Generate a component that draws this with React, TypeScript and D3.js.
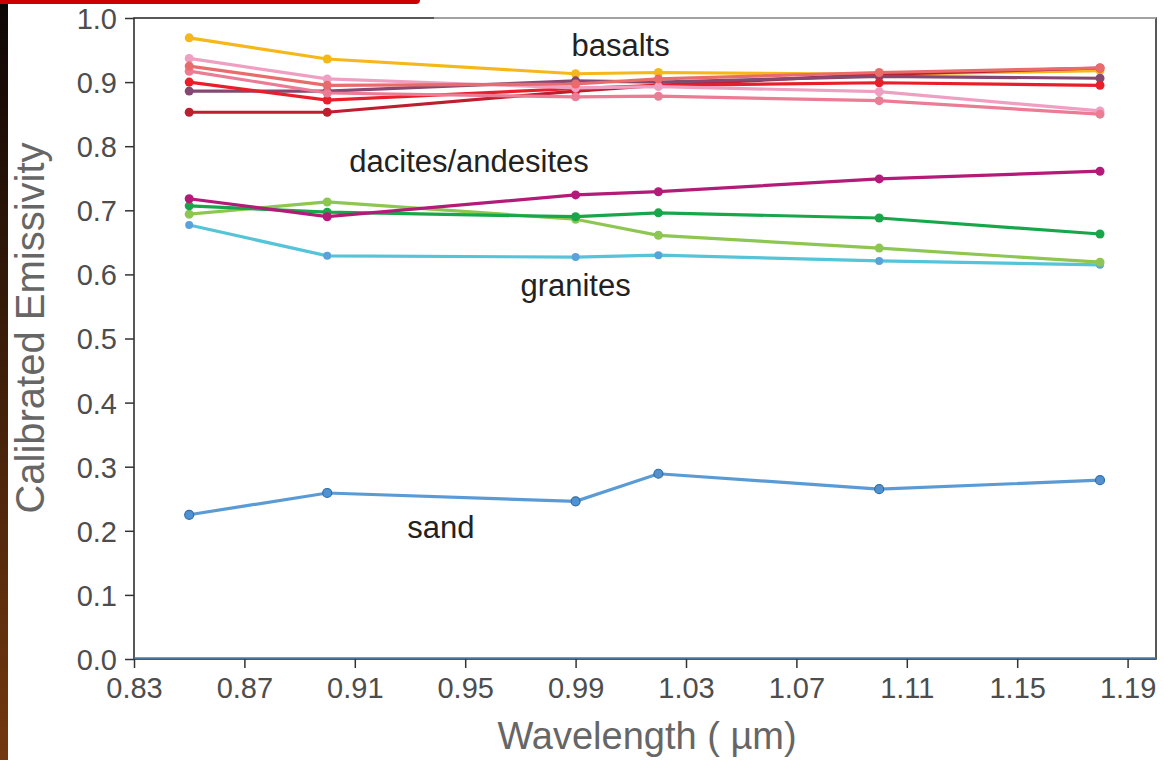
import React, { useRef, useEffect } from 'react';
import * as d3 from 'd3';

// wavelengths (µm) where each sample was measured
const wavelengths = [0.85, 0.9, 0.99, 1.02, 1.1, 1.18];

// basalts
const basaltYellow = [0.969, 0.936, 0.913, 0.915, 0.912, 0.918];
const basaltDarkRed = [0.853, 0.853, 0.886, 0.895, 0.912, 0.922];
const basaltMauve = [0.886, 0.886, 0.902, 0.9, 0.909, 0.906];
const basaltRed = [0.9, 0.872, 0.89, 0.895, 0.899, 0.895];
const basaltLightPink = [0.937, 0.905, 0.891, 0.893, 0.885, 0.855];
const basaltPink = [0.917, 0.883, 0.877, 0.878, 0.871, 0.85];
const basaltSalmon = [0.925, 0.895, 0.897, 0.905, 0.915, 0.922];

// dacites / andesites
const daciteMagenta = [0.718, 0.69, 0.724, 0.729, 0.749, 0.761];
const daciteGreen = [0.707, 0.697, 0.69, 0.696, 0.688, 0.663];
const daciteLightGreen = [0.694, 0.713, 0.686, 0.661, 0.641, 0.619];

// granites
const graniteCyan = [0.677, 0.629, 0.627, 0.63, 0.621, 0.615];

// sand
const sand = [0.225, 0.259, 0.246, 0.289, 0.265, 0.279];

const xTicks = [0.83, 0.87, 0.91, 0.95, 0.99, 1.03, 1.07, 1.11, 1.15, 1.19];
const yTicks = [0, 0.1, 0.2, 0.3, 0.4, 0.5, 0.6, 0.7, 0.8, 0.9, 1.0];

const series = [
  { values: sand, line: '#5b9bd5', dot: '#4f92d3', edge: '#2f6eaa', r: 4.5 },
  { values: graniteCyan, line: '#55c4d8', dot: '#5aa2da', edge: 'none', r: 4 },
  { values: daciteLightGreen, line: '#8dc650', dot: '#8dc650', edge: 'none', r: 4.5 },
  { values: daciteGreen, line: '#17a74a', dot: '#17a74a', edge: 'none', r: 4.5 },
  { values: daciteMagenta, line: '#b41a78', dot: '#b41a78', edge: 'none', r: 4.5 },
  { values: basaltYellow, line: '#f6b71a', dot: '#f6b71a', edge: 'none', r: 4.5 },
  { values: basaltDarkRed, line: '#bd1f2f', dot: '#bd1f2f', edge: 'none', r: 4.5 },
  { values: basaltMauve, line: '#854872', dot: '#854872', edge: 'none', r: 4.5 },
  { values: basaltRed, line: '#e81f2a', dot: '#e81f2a', edge: 'none', r: 4.5 },
  { values: basaltLightPink, line: '#efa0c2', dot: '#efa0c2', edge: 'none', r: 4.5 },
  { values: basaltPink, line: '#ec7b95', dot: '#ec7b95', edge: 'none', r: 4.5 },
  { values: basaltSalmon, line: '#e96b6b', dot: '#e96b6b', edge: 'none', r: 4.5 },
];

const labels = [
  { text: 'basalts', x: 0.9885, y: 0.94 },
  { text: 'dacites/andesites', x: 0.908, y: 0.76 },
  { text: 'granites', x: 0.97, y: 0.567 },
  { text: 'sand', x: 0.929, y: 0.189 },
];

function App() {
  const ref = useRef<SVGSVGElement>(null);

  useEffect(() => {
    const svg = d3.select(ref.current);
    svg.selectAll('*').remove();

    const left = 134, right = 1156, top = 18, bottom = 659;
    const x = d3.scaleLinear().domain([0.83, 1.2]).range([left, left + (1.2 - 0.83) * 2760]);
    const y = d3.scaleLinear().domain([0, 1]).range([bottom, top]);
    const font = 'Liberation Sans, Arial, sans-serif';

    // left edge strip and top red bar from the slide
    const grad = svg.append('defs').append('linearGradient')
      .attr('id', 'strip').attr('x1', 0).attr('y1', 0).attr('x2', 0).attr('y2', 1);
    grad.append('stop').attr('offset', '0%').attr('stop-color', '#0d0604');
    grad.append('stop').attr('offset', '100%').attr('stop-color', '#73380f');
    svg.append('rect').attr('x', 0).attr('y', 0).attr('width', 8).attr('height', 760).attr('fill', 'url(#strip)');
    svg.append('rect').attr('x', -10).attr('y', -6).attr('width', 430).attr('height', 10).attr('rx', 4).attr('fill', '#cc0000');

    // frame
    svg.append('rect')
      .attr('x', left).attr('y', top).attr('width', right - left).attr('height', bottom - top)
      .attr('fill', 'white').attr('stroke', '#222').attr('stroke-width', 1.5);
    svg.append('line')
      .attr('x1', left + 300).attr('x2', right).attr('y1', top).attr('y2', top)
      .attr('stroke', '#bbb').attr('stroke-width', 1.5);

    // axes
    const yAxis = svg.append('g').attr('transform', `translate(${left},0)`)
      .call(d3.axisLeft(y).tickValues(yTicks).tickFormat(d3.format('.1f')).tickSize(9).tickPadding(8));
    const xAxis = svg.append('g').attr('transform', `translate(0,${bottom})`)
      .call(d3.axisBottom(x).tickValues(xTicks).tickFormat(d3.format('.2f')).tickSize(9).tickPadding(9));
    [yAxis, xAxis].forEach((g) => {
      g.select('.domain').remove();
      g.selectAll('line').attr('stroke', '#333').attr('stroke-width', 1.5);
      g.selectAll('text').attr('fill', '#4d4d4d').attr('font-size', 29).attr('font-family', font);
    });
    yAxis.selectAll('text').attr('dy', '0.36em');

    // zero line
    svg.append('line')
      .attr('x1', left).attr('x2', right).attr('y1', y(0) - 1).attr('y2', y(0) - 1)
      .attr('stroke', '#3f7fb8').attr('stroke-width', 1.5);

    const line = d3.line<number>().x((_, i) => x(wavelengths[i])).y((d) => y(d));

    series.forEach((s) => {
      svg.append('path').datum(s.values)
        .attr('d', line).attr('fill', 'none').attr('stroke', s.line).attr('stroke-width', 3.2);
      svg.append('g').selectAll('circle').data(s.values).enter().append('circle')
        .attr('cx', (_, i) => x(wavelengths[i])).attr('cy', (d) => y(d)).attr('r', s.r)
        .attr('fill', s.dot).attr('stroke', s.edge).attr('stroke-width', 1.2);
    });

    svg.append('g').selectAll('text').data(labels).enter().append('text')
      .attr('x', (d) => x(d.x)).attr('y', (d) => y(d.y))
      .attr('font-size', 31).attr('font-family', font).attr('fill', '#222')
      .text((d) => d.text);

    // axis titles
    svg.append('text')
      .attr('transform', `translate(44,328) rotate(-90)`)
      .attr('text-anchor', 'middle').attr('font-size', 40).attr('font-family', font).attr('fill', '#666')
      .text('Calibrated Emissivity');
    svg.append('text')
      .attr('x', 647).attr('y', 749)
      .attr('text-anchor', 'middle').attr('font-size', 38).attr('font-family', font).attr('fill', '#666')
      .text('Wavelength ( µm)');
  }, []);

  return (
    <div style={{ position: 'absolute', left: 0, top: 0 }}>
      <svg ref={ref} width={1164} height={760} style={{ display: 'block', background: 'white' }} />
    </div>
  );
}

export default App;
